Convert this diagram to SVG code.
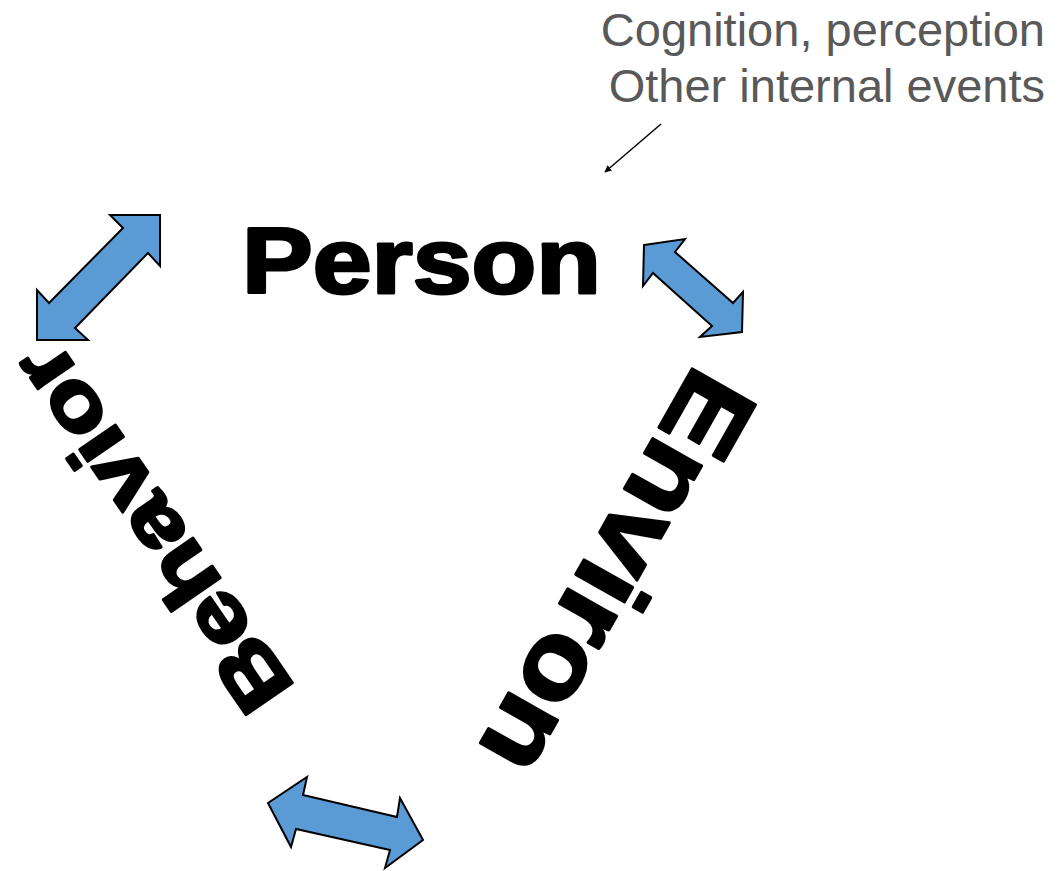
<svg xmlns="http://www.w3.org/2000/svg" width="1061" height="871" viewBox="0 0 1061 871">
<defs>
<style>
.big{font-family:"Liberation Sans",Arial,sans-serif;font-weight:bold;fill:#000;stroke:#000;stroke-width:3;stroke-linejoin:round}
.note{font-family:"Liberation Sans",Arial,sans-serif;font-size:47px;fill:#595959;text-anchor:end}
.dbl{fill:#5B9BD5;stroke:#000;stroke-width:2;stroke-linejoin:miter}
</style>
<marker id="ah" viewBox="0 0 10 10" refX="9" refY="5" markerWidth="7" markerHeight="7" orient="auto" markerUnits="userSpaceOnUse">
<path d="M0,0 L10,5 L0,10 z" fill="#000"/>
</marker>
</defs>
<rect width="1061" height="871" fill="#fff"/>
<g id="note">
<text class="note" x="1045" y="46">Cognition, perception</text>
<text class="note" x="1045" y="102">Other internal events</text>
</g>
<g id="person">
<text class="big" x="242" y="293" font-size="92" textLength="359" lengthAdjust="spacingAndGlyphs">Person</text>
</g>
<g id="behavior">
<text class="big" transform="translate(296,688) rotate(235.5)" x="0" y="0" font-size="82" textLength="425" lengthAdjust="spacingAndGlyphs">Behavior</text>
</g>
<g id="environ">
<text class="big" transform="translate(696,362) rotate(119.5)" x="0" y="0" font-size="106" textLength="445" lengthAdjust="spacingAndGlyphs">Environ</text>
</g>
<g id="connectors">
<polygon class="dbl" points="160,215 110,215 123,228 49,303 37,290 37,340 88,340 75,328 148,253 160,266"/>
<polygon class="dbl" points="644,245 685,239 675,252 733,303 743,292 742,332 700,337 712,326 653,273 643,286"/>
<polygon class="dbl" points="268,803 307,777 303,795 397,817 400,798 423,840 385,868 390,850 296,829 291,847"/>
<line x1="661" y1="124" x2="605" y2="172" stroke="#000" stroke-width="1.5" marker-end="url(#ah)"/>
</g>
</svg>
